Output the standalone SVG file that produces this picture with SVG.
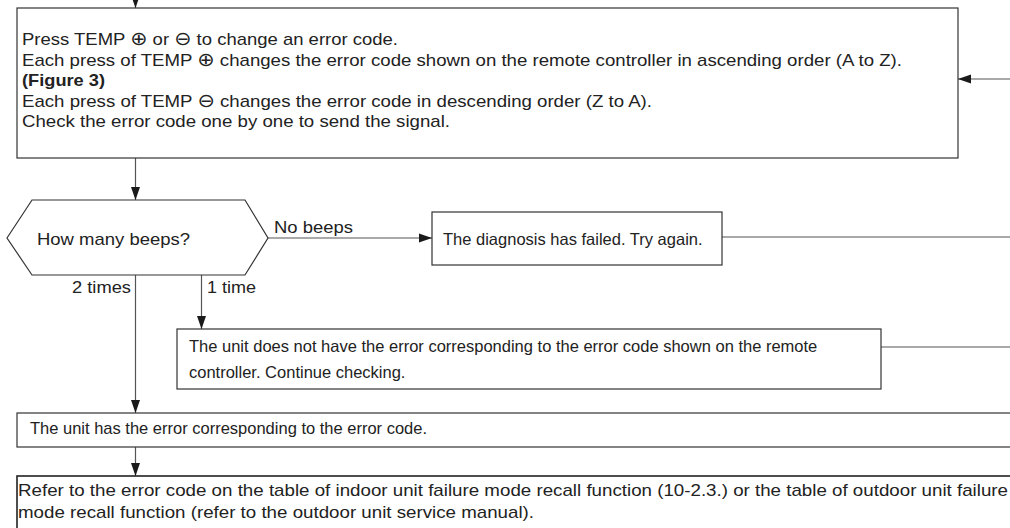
<svg xmlns="http://www.w3.org/2000/svg" width="1010" height="528" viewBox="0 0 1010 528">
<defs>
<marker id="ah" markerUnits="userSpaceOnUse" markerWidth="14" markerHeight="10" refX="13" refY="5" orient="auto">
<path d="M0,0.5 L13,5 L0,9.5 Z" fill="#1a1a1a"/>
</marker>
<style>
.box{fill:#fff;stroke:#333;stroke-width:1.2}
.ln{fill:none;stroke:#555;stroke-width:1.2}
.t{font-family:"Liberation Sans",Arial,sans-serif;font-size:17px;fill:#222}
.n{font-size:16.5px}
.b{font-weight:bold}
.sym{font-family:"DejaVu Sans",sans-serif;font-size:19px}
</style>
</defs>
<rect width="1010" height="528" fill="#fff"/>
<g id="connectors">
<line class="ln" x1="135.5" y1="0" x2="135.5" y2="8" marker-end="url(#ah)"/>
<line class="ln" x1="1010" y1="79" x2="958" y2="79" marker-end="url(#ah)"/>
<line class="ln" x1="135.5" y1="158" x2="135.5" y2="200" marker-end="url(#ah)"/>
<line class="ln" x1="268" y1="238" x2="432" y2="238" marker-end="url(#ah)"/>
<line class="ln" x1="722" y1="237" x2="1010" y2="237"/>
<line class="ln" x1="201.5" y1="275" x2="201.5" y2="329" marker-end="url(#ah)"/>
<line class="ln" x1="881" y1="347" x2="1010" y2="347"/>
<line class="ln" x1="135.5" y1="275" x2="135.5" y2="413" marker-end="url(#ah)"/>
<line class="ln" x1="135.5" y1="447" x2="135.5" y2="476" marker-end="url(#ah)"/>
<text class="t" x="274" y="233" textLength="79" lengthAdjust="spacingAndGlyphs">No beeps</text>
<text class="t" x="72" y="293" textLength="59" lengthAdjust="spacingAndGlyphs">2 times</text>
<text class="t" x="207" y="293" textLength="49" lengthAdjust="spacingAndGlyphs">1 time</text>
</g>
<g id="node-press">
<rect class="box" x="17" y="8" width="941" height="150"/>
<text class="t" x="22" y="45" textLength="376" lengthAdjust="spacingAndGlyphs">Press TEMP <tspan class="sym">⊕</tspan> or <tspan class="sym">⊖</tspan> to change an error code.</text>
<text class="t" x="22" y="65.5" textLength="880" lengthAdjust="spacingAndGlyphs">Each press of TEMP <tspan class="sym">⊕</tspan> changes the error code shown on the remote controller in ascending order (A to Z).</text>
<text class="t b" x="22" y="86" textLength="83" lengthAdjust="spacingAndGlyphs">(Figure 3)</text>
<text class="t" x="22" y="106.5" textLength="630" lengthAdjust="spacingAndGlyphs">Each press of TEMP <tspan class="sym">⊖</tspan> changes the error code in descending order (Z to A).</text>
<text class="t" x="22" y="127" textLength="428" lengthAdjust="spacingAndGlyphs">Check the error code one by one to send the signal.</text>
</g>
<g id="node-beeps">
<polygon class="box" points="7,238 32,200 245,200 268,238 245,275 32,275"/>
<text class="t" x="37" y="245" textLength="153" lengthAdjust="spacingAndGlyphs">How many beeps?</text>
</g>
<g id="node-failed">
<rect class="box" x="432" y="212" width="290" height="53"/>
<text class="t n" x="443" y="245">The diagnosis has failed. Try again.</text>
</g>
<g id="node-notfound">
<rect class="box" x="177" y="329" width="704" height="60"/>
<text class="t n" x="189" y="352">The unit does not have the error corresponding to the error code shown on the remote</text>
<text class="t n" x="189" y="378">controller. Continue checking.</text>
</g>
<g id="node-hasError">
<rect class="box" x="17" y="413" width="1000" height="34"/>
<text class="t" x="30" y="434" textLength="397" lengthAdjust="spacingAndGlyphs">The unit has the error corresponding to the error code.</text>
</g>
<g id="node-refer">
<rect class="box" x="17" y="476" width="1000" height="60" style="stroke-width:1.6;stroke:#222"/>
<text class="t" x="18" y="496" textLength="990" lengthAdjust="spacingAndGlyphs">Refer to the error code on the table of indoor unit failure mode recall function (10-2.3.) or the table of outdoor unit failure</text>
<text class="t" x="18" y="518" textLength="516" lengthAdjust="spacingAndGlyphs">mode recall function (refer to the outdoor unit service manual).</text>
</g>
</svg>
